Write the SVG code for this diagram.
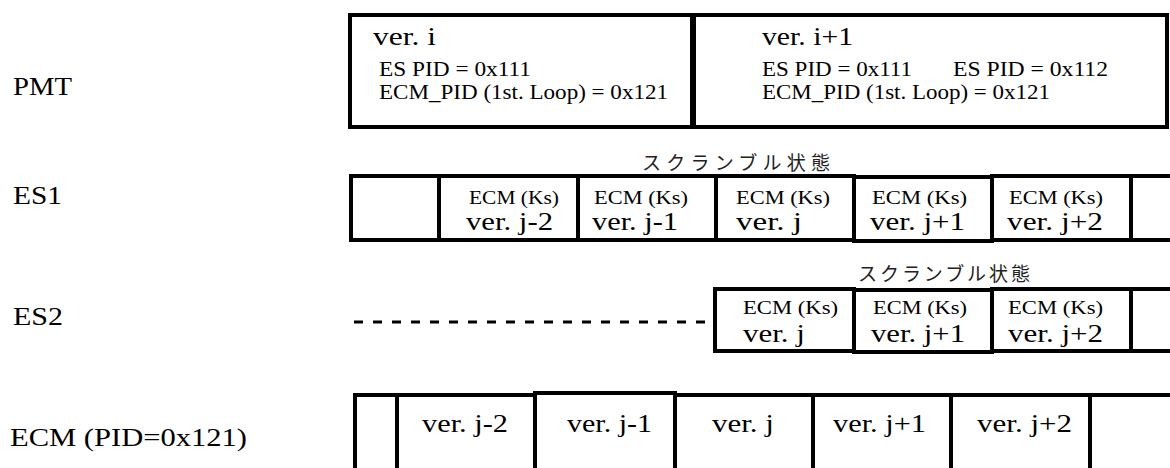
<svg xmlns="http://www.w3.org/2000/svg" width="1170" height="468" viewBox="0 0 1170 468">
<style>
  .bg { fill: #ffffff; }
  .box { fill: #ffffff; stroke: #000000; stroke-width: 4; }
  .div { stroke: #000000; stroke-width: 6; }
  .dash { stroke: #000000; stroke-width: 3; stroke-dasharray: 9 10; fill: none; }
  .t { font-family: 'Liberation Serif', 'DejaVu Serif', serif; fill: #000000; }
  .lbl { font-size: 26px; }
  .ver { font-size: 25px; }
  .sub { font-size: 21px; }
  .ks { font-size: 19px; }
  .jp { font-family: 'Noto Sans CJK JP', 'Noto Sans CJK SC', sans-serif; font-size: 19px; fill: #222222; }
</style>
<rect class="bg" x="0" y="0" width="1170" height="468"/>

<g id="labels">
  <text class="t lbl" x="13" y="95" textLength="59" lengthAdjust="spacingAndGlyphs">PMT</text>
  <text class="t lbl" x="13" y="204" textLength="49" lengthAdjust="spacingAndGlyphs">ES1</text>
  <text class="t lbl" x="13" y="325" textLength="50" lengthAdjust="spacingAndGlyphs">ES2</text>
  <text class="t lbl" x="10" y="446" textLength="237" lengthAdjust="spacingAndGlyphs">ECM (PID=0x121)</text>
</g>

<g id="pmt">
  <rect class="box" x="350" y="15" width="817" height="112"/>
  <line class="div" x1="693" y1="15" x2="693" y2="127"/>
  <g id="pmt-ver-i">
    <text class="t ver" x="373" y="45" textLength="63" lengthAdjust="spacingAndGlyphs">ver. i</text>
    <text class="t sub" x="379" y="76" textLength="152" lengthAdjust="spacingAndGlyphs">ES PID = 0x111</text>
    <text class="t sub" x="379" y="99" textLength="289" lengthAdjust="spacingAndGlyphs">ECM_PID (1st. Loop) = 0x121</text>
  </g>
  <g id="pmt-ver-i1">
    <text class="t ver" x="762" y="45" textLength="91" lengthAdjust="spacingAndGlyphs">ver. i+1</text>
    <text class="t sub" x="762" y="76" textLength="150" lengthAdjust="spacingAndGlyphs">ES PID = 0x111</text>
    <text class="t sub" x="953" y="76" textLength="155" lengthAdjust="spacingAndGlyphs">ES PID = 0x112</text>
    <text class="t sub" x="762" y="99" textLength="288" lengthAdjust="spacingAndGlyphs">ECM_PID (1st. Loop) = 0x121</text>
  </g>
</g>

<g id="es1">
  <text class="jp" x="642" y="170" textLength="188" lengthAdjust="spacing">スクランブル状態</text>
  <g id="es1-c0"><rect class="box" x="351" y="176" width="88" height="64"/></g>
  <g id="es1-c1"><rect class="box" x="439" y="176" width="139" height="64"/>
    <text class="t ks" x="469" y="204" textLength="90" lengthAdjust="spacingAndGlyphs">ECM (Ks)</text>
    <text class="t ver" x="466" y="230" textLength="87" lengthAdjust="spacingAndGlyphs">ver. j-2</text></g>
  <g id="es1-c2"><rect class="box" x="578" y="176" width="138" height="64"/>
    <text class="t ks" x="594" y="204" textLength="94" lengthAdjust="spacingAndGlyphs">ECM (Ks)</text>
    <text class="t ver" x="592" y="230" textLength="86" lengthAdjust="spacingAndGlyphs">ver. j-1</text></g>
  <g id="es1-c3"><rect class="box" x="716" y="176" width="138" height="64"/>
    <text class="t ks" x="736" y="204" textLength="94" lengthAdjust="spacingAndGlyphs">ECM (Ks)</text>
    <text class="t ver" x="736" y="230" textLength="66" lengthAdjust="spacingAndGlyphs">ver. j</text></g>
  <g id="es1-c4"><rect class="box" x="854" y="177" width="138" height="64"/>
    <text class="t ks" x="872" y="204" textLength="95" lengthAdjust="spacingAndGlyphs">ECM (Ks)</text>
    <text class="t ver" x="870" y="230" textLength="95" lengthAdjust="spacingAndGlyphs">ver. j+1</text></g>
  <g id="es1-c5"><rect class="box" x="992" y="176" width="139" height="64"/>
    <text class="t ks" x="1009" y="204" textLength="94" lengthAdjust="spacingAndGlyphs">ECM (Ks)</text>
    <text class="t ver" x="1007" y="230" textLength="96" lengthAdjust="spacingAndGlyphs">ver. j+2</text></g>
  <g id="es1-c6"><rect class="box" x="1131" y="176" width="60" height="64"/></g>
</g>

<g id="es2">
  <text class="jp" x="858" y="281" textLength="172" lengthAdjust="spacing">スクランブル状態</text>
  <g id="es2-c3"><rect class="box" x="715" y="289" width="139" height="62"/>
    <text class="t ks" x="743" y="314" textLength="95" lengthAdjust="spacingAndGlyphs">ECM (Ks)</text>
    <text class="t ver" x="743" y="342" textLength="62" lengthAdjust="spacingAndGlyphs">ver. j</text></g>
  <g id="es2-c4"><rect class="box" x="854" y="290" width="138" height="62"/>
    <text class="t ks" x="873" y="314" textLength="94" lengthAdjust="spacingAndGlyphs">ECM (Ks)</text>
    <text class="t ver" x="871" y="342" textLength="94" lengthAdjust="spacingAndGlyphs">ver. j+1</text></g>
  <g id="es2-c5"><rect class="box" x="992" y="289" width="139" height="62"/>
    <text class="t ks" x="1008" y="314" textLength="95" lengthAdjust="spacingAndGlyphs">ECM (Ks)</text>
    <text class="t ver" x="1008" y="342" textLength="95" lengthAdjust="spacingAndGlyphs">ver. j+2</text></g>
  <g id="es2-c6"><rect class="box" x="1131" y="289" width="60" height="62"/></g>
</g>

<g id="ecm">
  <g id="ecm-c0"><rect class="box" x="355" y="395" width="42" height="100"/></g>
  <g id="ecm-c1"><rect class="box" x="397" y="395" width="138" height="100"/>
    <text class="t ver" x="422" y="432" textLength="86" lengthAdjust="spacingAndGlyphs">ver. j-2</text></g>
  <g id="ecm-c2"><rect class="box" x="535" y="393" width="140" height="102"/>
    <text class="t ver" x="567" y="432" textLength="85" lengthAdjust="spacingAndGlyphs">ver. j-1</text></g>
  <g id="ecm-c3"><rect class="box" x="675" y="395" width="138" height="100"/>
    <text class="t ver" x="712" y="432" textLength="62" lengthAdjust="spacingAndGlyphs">ver. j</text></g>
  <g id="ecm-c4"><rect class="box" x="813" y="395" width="138" height="100"/>
    <text class="t ver" x="833" y="432" textLength="93" lengthAdjust="spacingAndGlyphs">ver. j+1</text></g>
  <g id="ecm-c5"><rect class="box" x="951" y="395" width="139" height="100"/>
    <text class="t ver" x="977" y="432" textLength="95" lengthAdjust="spacingAndGlyphs">ver. j+2</text></g>
  <g id="ecm-c6"><rect class="box" x="1090" y="395" width="100" height="100"/></g>
</g>

<g id="connectors">
  <line class="dash" x1="354" y1="322" x2="713" y2="322"/>
</g>
</svg>
